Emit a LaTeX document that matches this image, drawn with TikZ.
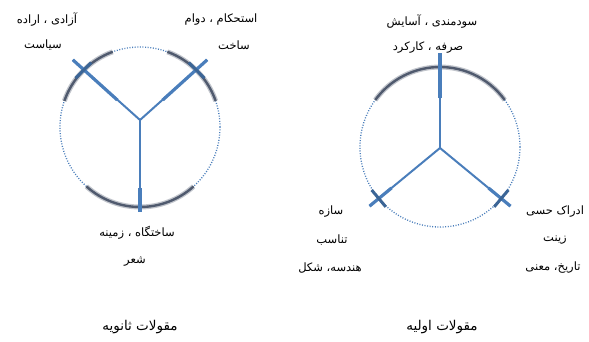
\documentclass[tikz,border=0pt]{standalone}
\usepackage{fontspec}
\newfontfamily\arabicfont[Script=Arabic]{DejaVu Sans}
\TeXXeTstate=1
\usetikzlibrary{calc}
\definecolor{armblue}{RGB}{74,126,187}
\definecolor{bandgray}{RGB}{80,90,110}
\begin{document}
\begin{tikzpicture}[x=1pt,y=1pt,
  arm/.style={draw=armblue, line width=2pt},
  armthick/.style={draw=armblue, line width=3.2pt},
  crossmark/.style={draw=armblue!80!black, line width=3pt},
  ring/.style={draw=armblue, line width=1.3pt, dash pattern=on 1pt off 1.6pt},
  bandsoft/.style={draw=bandgray, line width=5pt, opacity=0.35},
  bandcore/.style={draw=bandgray, line width=2.4pt},
  lbl/.style={font=\arabicfont\fontsize{11.5}{13}\selectfont, inner sep=0pt},
  captext/.style={font=\arabicfont\fontsize{13.5}{15}\selectfont, inner sep=0pt}]
\useasboundingbox (0,0) rectangle (589,341);

% ---------- left diagram ----------
\coordinate (lc) at (140,214);
\coordinate (lhub) at (140,221);
\draw[ring] (lc) circle (80);
\foreach \a/\b in {110/161, 19/70, 228/312}{
  \draw[bandsoft] ($(lc)+(\a:80)$) arc (\a:\b:80);
  \draw[bandcore] ($(lc)+(\a:80)$) arc (\a:\b:80);
}
\coordinate (la) at ($(lc)+(135:95)$);
\coordinate (lb) at ($(lc)+(45:95)$);
\coordinate (ld) at (140,129);
\coordinate (la1) at (117.3,241);
\coordinate (lb1) at (162.7,241);
\coordinate (ld1) at (140,153);
\draw[arm] (lhub) -- (la);
\draw[arm] (lhub) -- (lb);
\draw[arm] (lhub) -- (ld);
\draw[armthick] (la1) -- (la);
\draw[armthick] (lb1) -- (lb);
\draw[armthick] (ld1) -- (ld);
\draw[crossmark] ($(lc)+(135:80)+(45:11)$) -- ($(lc)+(135:80)+(225:11)$);
\draw[crossmark] ($(lc)+(45:80)+(135:11)$) -- ($(lc)+(45:80)+(315:11)$);

\node[lbl] (t1) at (47,321) {\beginR آزادی ، اراده\endR};
\node[lbl] (t2) at (43,296) {\beginR سیاست\endR};
\node[lbl] (t3) at (221,321) {\beginR استحکام ، دوام\endR};
\node[lbl] (t4) at (234,296) {\beginR ساخت\endR};
\node[lbl] (t5) at (137,108) {\beginR ساختگاه ، زمینه\endR};
\node[lbl] (t6) at (135,79) {\beginR شعر\endR};
\node[captext] (c1) at (140,14) {\beginR مقولات ثانویه\endR};

% ---------- right diagram ----------
\coordinate (rc) at (440,194);
\coordinate (rhub) at (440,193);
\draw[ring] (rc) circle (80);
\draw[bandsoft] ($(rc)+(36:80)$) arc (36:144:80);
\draw[bandcore] ($(rc)+(36:80)$) arc (36:144:80);
\coordinate (ra) at (440,288);
\coordinate (rb) at ($(rc)+(220:92)$);
\coordinate (rd) at ($(rc)+(320:92)$);
\coordinate (ra1) at (440,243);
\coordinate (rb1) at (391.5,153);
\coordinate (rd1) at (488.5,153);
\draw[arm] (rhub) -- (ra);
\draw[arm] (rhub) -- (rb);
\draw[arm] (rhub) -- (rd);
\draw[armthick] (ra1) -- (ra);
\draw[armthick] (rb1) -- (rb);
\draw[armthick] (rd1) -- (rd);
\draw[crossmark] ($(rc)+(220:80)+(130:11)$) -- ($(rc)+(220:80)+(310:11)$);
\draw[crossmark] ($(rc)+(320:80)+(50:11)$) -- ($(rc)+(320:80)+(230:11)$);

\node[lbl] (s1) at (432,319) {\beginR سودمندی ، آسایش\endR};
\node[lbl] (s2) at (428,293) {\beginR صرفه ، کارکرد\endR};
\node[lbl] (s3) at (331,129) {\beginR سازه\endR};
\node[lbl] (s4) at (332,101) {\beginR تناسب\endR};
\node[lbl] (s5) at (330,73) {\beginR هندسه، شکل\endR};
\node[lbl] (s6) at (555,129) {\beginR ادراک حسی\endR};
\node[lbl] (s7) at (555,101) {\beginR زینت\endR};
\node[lbl] (s8) at (553,73) {\beginR تاریخ، معنی\endR};
\node[captext] (c2) at (442,14) {\beginR مقولات اولیه\endR};
\end{tikzpicture}
\end{document}
